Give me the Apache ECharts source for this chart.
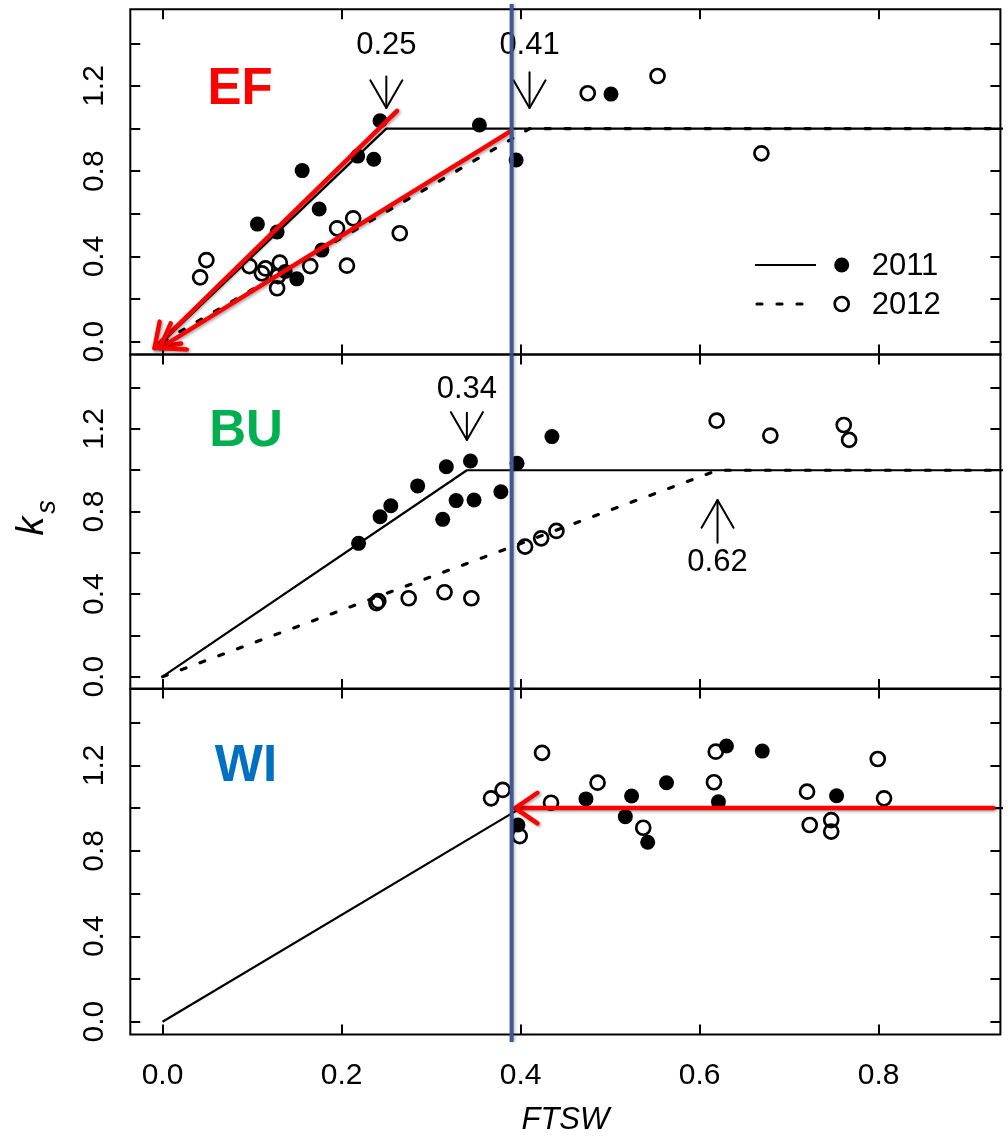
<!DOCTYPE html>
<html>
<head>
<meta charset="utf-8">
<script src="https://cdn.jsdelivr.net/npm/echarts@6/dist/echarts.min.js"></script>
<style>
  html, body { margin: 0; padding: 0; background: #fff; }
  #chart { width: 1008px; height: 1140px; }
</style>
</head>
<body>
<div id="chart"></div>
<script>
// ---- observations: [FTSW, ks] ----
const ef2011 = [[0.106,0.552],[0.128,0.515],[0.137,0.330],[0.150,0.295],[0.156,0.803],[0.175,0.623],
                [0.178,0.430],[0.218,0.871],[0.236,0.856],[0.243,1.037],[0.354,1.017],[0.395,0.853],[0.501,1.162]];
const ef2012 = [[0.042,0.302],[0.049,0.383],[0.097,0.355],[0.111,0.321],[0.115,0.344],[0.128,0.251],
                [0.129,0.308],[0.131,0.371],[0.165,0.355],[0.195,0.532],[0.206,0.357],[0.213,0.579],
                [0.265,0.509],[0.475,1.166],[0.553,1.247],[0.669,0.884]];
const bu2011 = [[0.219,0.646],[0.243,0.775],[0.255,0.828],[0.285,0.924],[0.313,0.762],[0.317,1.017],
                [0.328,0.853],[0.344,1.045],[0.348,0.856],[0.378,0.896],[0.396,1.034],[0.435,1.163]];
const bu2012 = [[0.239,0.356],[0.241,0.366],[0.275,0.380],[0.315,0.409],[0.345,0.380],[0.405,0.630],
                [0.423,0.670],[0.440,0.706],[0.619,1.240],[0.679,1.168],[0.761,1.219],[0.767,1.147]];
const wi2011 = [[0.397,0.921],[0.473,1.043],[0.517,0.960],[0.524,1.057],[0.542,0.840],[0.563,1.119],
                [0.621,1.030],[0.630,1.291],[0.670,1.267],[0.753,1.058]];
const wi2012 = [[0.367,1.046],[0.380,1.085],[0.399,0.869],[0.424,1.259],[0.434,1.025],[0.486,1.119],
                [0.537,0.908],[0.616,1.121],[0.618,1.264],[0.720,1.077],[0.723,0.921],[0.747,0.944],
                [0.747,0.890],[0.799,1.230],[0.806,1.046]];

// ---- fitted segmented models (linear rise, plateau at 1) ----
const ef2011Fit = [[0,0],[0.25,1],[1,1]];
const ef2012Fit = [[0,0],[0.41,1],[1,1]];
const bu2011Fit = [[0,0],[0.34,1],[1,1]];
const bu2012Fit = [[0,0],[0.62,1],[1,1]];
const wi2011Fit = [[0,0],[0.40,1],[1,1]];

// ---- threshold callouts: [FTSW, tail ks, tip ks, label ks] ----
const efCallouts = [[0.25,1.245,1.097,1.392],[0.41,1.265,1.097,1.392]];
const buCallouts = [[0.34,1.278,1.147,1.389],[0.62,0.649,0.856,0.551]];

// ---- highlight arrows: [x1, y1, x2(head), y2(head)] ----
const efRedArrows = [[0.262,1.083,-0.009,-0.030],[0.388,0.986,-0.003,-0.030]];
const wiRedArrows = [[0.928,1.0,0.394,1.0]];
const thresholdFTSW = 0.39;

// ---- axes ----
const xTicks  = [0, 0.2, 0.4, 0.6, 0.8];
const yTicks  = [0, 0.2, 0.4, 0.6, 0.8, 1.0, 1.2, 1.4];
const yLabels = [0, 0.4, 0.8, 1.2];
const xRange = [-0.036, 0.936];
const yRange = [-0.06, 1.56];

const FONT = '"Liberation Sans", Arial, Helvetica, sans-serif';

const panels = [
  { name: 'EF', color: '#FF0000', labelPos: [240, 90],  grid: { top: 9.3,   height: 345.2 },
    filled: ef2011, open: ef2012, solid: ef2011Fit, dashed: ef2012Fit,
    callouts: efCallouts, red: efRedArrows, blue: [1.585, yRange[0]] },
  { name: 'BU', color: '#00B050', labelPos: [246, 432], grid: { top: 354.6, height: 334.5 },
    filled: bu2011, open: bu2012, solid: bu2011Fit, dashed: bu2012Fit,
    callouts: buCallouts, red: [], blue: [yRange[1], yRange[0]] },
  { name: 'WI', color: '#0070C0', labelPos: [246, 767], grid: { top: 688.5, height: 346 },
    filled: wi2011, open: wi2012, solid: wi2011Fit, dashed: null,
    callouts: [], red: wiRedArrows, blue: [yRange[1], -0.095] }
];

const grid = [], xAxis = [], yAxis = [], series = [], graphic = [];

function arrowRenderer(width, color, headLen, headAng, shadow, withLabel) {
  return function (params, api) {
    let p1, p2, label = null;
    if (withLabel) {
      const x = api.value(0);
      p1 = api.coord([x, api.value(1)]);
      p2 = api.coord([x, api.value(2)]);
      const pl = api.coord([x, api.value(3)]);
      label = { type: 'text', x: pl[0], y: pl[1],
        style: { text: x.toFixed(2), font: '31px ' + FONT, fill: '#000', align: 'center', verticalAlign: 'middle' } };
    } else {
      p1 = api.coord([api.value(0), api.value(1)]);
      p2 = api.coord([api.value(2), api.value(3)]);
    }
    const a = Math.atan2(p2[1] - p1[1], p2[0] - p1[0]);
    const w1 = [p2[0] - headLen * Math.cos(a - headAng), p2[1] - headLen * Math.sin(a - headAng)];
    const w2 = [p2[0] - headLen * Math.cos(a + headAng), p2[1] - headLen * Math.sin(a + headAng)];
    const style = { stroke: color, lineWidth: width, fill: null, lineCap: 'round', lineJoin: 'round' };
    if (shadow) Object.assign(style, { shadowBlur: 3, shadowColor: 'rgba(0,0,0,0.35)', shadowOffsetX: 1.5, shadowOffsetY: 1.5 });
    const children = [
      { type: 'line', shape: { x1: p1[0], y1: p1[1], x2: p2[0], y2: p2[1] }, style: style },
      { type: 'polyline', shape: { points: [w1, p2, w2] }, style: style }
    ];
    if (label) children.push(label);
    return { type: 'group', children: children };
  };
}

panels.forEach(function (p, i) {
  const last = i === panels.length - 1;
  grid.push({ left: 130.3, width: 870.1, top: p.grid.top, height: p.grid.height,
    show: true, borderColor: '#000', borderWidth: 2, backgroundColor: 'transparent' });

  const tick = { show: true, inside: true, length: 10, lineStyle: { color: '#000', width: 2 } };
  const noLine = { show: false, onZero: false };
  // bottom & top x axes
  xAxis.push({
    type: 'value', gridIndex: i, position: 'bottom', min: xRange[0], max: xRange[1],
    axisLine: noLine, splitLine: { show: false },
    axisTick: Object.assign({ customValues: xTicks }, tick),
    axisLabel: { show: last, customValues: xTicks, formatter: function (v) { return v.toFixed(1); },
      fontSize: 30, fontFamily: FONT, color: '#000', margin: 26 },
    name: last ? 'FTSW' : '', nameLocation: 'middle', nameGap: 70,
    nameTextStyle: { fontSize: 31, fontStyle: 'italic', fontFamily: FONT, color: '#000' }
  });
  xAxis.push({
    type: 'value', gridIndex: i, position: 'top', min: xRange[0], max: xRange[1],
    axisLine: noLine, splitLine: { show: false },
    axisTick: Object.assign({ customValues: xTicks }, tick), axisLabel: { show: false }
  });
  // left & right y axes
  yAxis.push({
    type: 'value', gridIndex: i, position: 'left', min: yRange[0], max: yRange[1],
    axisLine: noLine, splitLine: { show: false },
    axisTick: Object.assign({ customValues: yTicks }, tick),
    axisLabel: { show: true, customValues: yLabels, rotate: 90, formatter: function (v) { return v.toFixed(1); },
      fontSize: 30, fontFamily: FONT, color: '#000', margin: 21 }
  });
  yAxis.push({
    type: 'value', gridIndex: i, position: 'right', min: yRange[0], max: yRange[1],
    axisLine: noLine, splitLine: { show: false },
    axisTick: Object.assign({ customValues: yTicks }, tick), axisLabel: { show: false }
  });

  const xi = 2 * i, yi = 2 * i;

  series.push({ type: 'line', name: '2011', xAxisIndex: xi, yAxisIndex: yi, data: p.solid,
    symbol: 'none', clip: true, z: 2, silent: true,
    lineStyle: { color: '#000', width: 2.2 } });
  if (p.dashed) {
    series.push({ type: 'line', name: '2012', xAxisIndex: xi, yAxisIndex: yi, data: p.dashed,
      symbol: 'none', clip: true, z: 2, silent: true,
      lineStyle: { color: '#000', width: 3.2, type: [5, 15], cap: 'round' } });
  }
  series.push({ type: 'scatter', name: '2012', xAxisIndex: xi, yAxisIndex: yi, data: p.open,
    symbol: 'circle', symbolSize: 14, z: 3, silent: true,
    itemStyle: { color: 'rgba(0,0,0,0)', borderColor: '#000', borderWidth: 2.7, opacity: 1 } });
  series.push({ type: 'scatter', name: '2011', xAxisIndex: xi, yAxisIndex: yi, data: p.filled,
    symbol: 'circle', symbolSize: 15, z: 3, silent: true,
    itemStyle: { color: '#000', opacity: 1 } });

  if (p.callouts.length) {
    series.push({ type: 'custom', xAxisIndex: xi, yAxisIndex: yi, data: p.callouts, z: 4, silent: true,
      renderItem: arrowRenderer(2, '#000', 32, Math.PI / 6, false, true) });
  }
  if (p.red.length) {
    series.push({ type: 'custom', xAxisIndex: xi, yAxisIndex: yi, data: p.red, z: 5, silent: true,
      renderItem: arrowRenderer(4.5, '#FF0000', 27, Math.PI / 5.2, true, false) });
  }
  // common threshold marker across panels
  series.push({ type: 'line', xAxisIndex: xi, yAxisIndex: yi,
    data: [[thresholdFTSW, p.blue[0]], [thresholdFTSW, p.blue[1]]],
    symbol: 'none', clip: false, z: 6, silent: true,
    lineStyle: { color: '#3B5998', width: 4, shadowBlur: 3, shadowColor: 'rgba(0,0,0,0.25)', shadowOffsetX: 1.5 } });

  graphic.push({ type: 'text', x: p.labelPos[0], y: p.labelPos[1], z: 10,
    style: { text: p.name, font: 'bold 51px ' + FONT, fill: p.color, align: 'center', verticalAlign: 'middle' } });
});

// legend (top panel)
graphic.push(
  { type: 'line', shape: { x1: 755, y1: 265, x2: 816, y2: 265 }, style: { stroke: '#000', lineWidth: 2 } },
  { type: 'circle', shape: { cx: 841.7, cy: 265, r: 7.5 }, style: { fill: '#000' } },
  { type: 'text', x: 871.7, y: 266, style: { text: '2011', font: '31px ' + FONT, fill: '#000', align: 'left', verticalAlign: 'middle' } },
  { type: 'line', shape: { x1: 757, y1: 304, x2: 816, y2: 304 }, style: { stroke: '#000', lineWidth: 3.2, lineDash: [5, 15], lineCap: 'round' } },
  { type: 'circle', shape: { cx: 841.7, cy: 304, r: 7 }, style: { fill: null, stroke: '#000', lineWidth: 2.7 } },
  { type: 'text', x: 871.7, y: 305, style: { text: '2012', font: '31px ' + FONT, fill: '#000', align: 'left', verticalAlign: 'middle' } }
);

// y-axis title k_s
graphic.push(
  { type: 'text', x: 32, y: 526, rotation: Math.PI / 2,
    style: { text: 'k', font: 'italic 38px ' + FONT, fill: '#000', align: 'center', verticalAlign: 'middle' } },
  { type: 'text', x: 47, y: 507, rotation: Math.PI / 2,
    style: { text: 's', font: 'italic 27px ' + FONT, fill: '#000', align: 'center', verticalAlign: 'middle' } }
);

const chart = echarts.init(document.getElementById('chart'), null, { renderer: 'canvas' });
chart.setOption({
  animation: false,
  backgroundColor: '#fff',
  grid: grid, xAxis: xAxis, yAxis: yAxis, series: series, graphic: graphic
});
</script>
</body>
</html>
